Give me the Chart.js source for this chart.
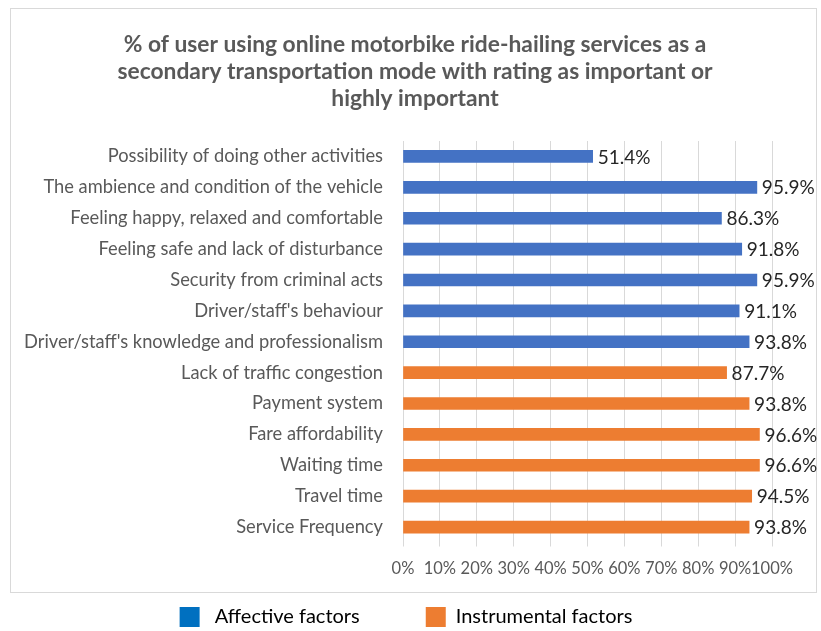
<!DOCTYPE html>
<html>
<head>
<meta charset="utf-8">
<script src="https://cdn.jsdelivr.net/npm/chart.js"></script>
<style>
  html, body { margin: 0; padding: 0; background: #fff; }
  #wrap { width: 821px; height: 631px; }
</style>
</head>
<body>
<div id="wrap"><canvas id="factorsChart" width="821" height="631"></canvas></div>
<script>
// Factors rated important / highly important (percent of users)
const factors = [
    "Possibility of doing other activities",
    "The ambience and condition of the vehicle",
    "Feeling happy, relaxed and comfortable",
    "Feeling safe and lack of disturbance",
    "Security from criminal acts",
    "Driver/staff's behaviour",
    "Driver/staff's knowledge and professionalism",
    "Lack of traffic congestion",
    "Payment system",
    "Fare affordability",
    "Waiting time",
    "Travel time",
    "Service Frequency"
];
const affective = [51.4, 95.9, 86.3, 91.8, 95.9, 91.1, 93.8, null, null, null, null, null, null];
const instrumental = [null, null, null, null, null, null, null, 87.7, 93.8, 96.6, 96.6, 94.5, 93.8];
const xTicks = [0, 10, 20, 30, 40, 50, 60, 70, 80, 90, 100];

const titleLines = [
    "% of user using online motorbike ride-hailing services as a",
    "secondary transportation mode with rating as important or",
    "highly important"
];

const FONT = "Lato";

// Light grey frame around title + plot (legend sits below it)
const framePlugin = {
    id: "frame",
    beforeDraw(chart) {
        const ctx = chart.ctx;
        ctx.save();
        ctx.fillStyle = "#fff";
        ctx.fillRect(0, 0, chart.width, chart.height);
        ctx.strokeStyle = "#d9d9d9";
        ctx.lineWidth = 1;
        ctx.strokeRect(10.5, 8.5, 806, 584);
        ctx.restore();
    }
};

// Centre title and legend a little right of the full width
const centreBoxes = {
    id: "centreBoxes",
    afterLayout(chart) {
        const place = (box, left, right) => {
            box.left = left;
            box.right = right;
            box.width = right - left;
        };
        place(chart.titleBlock, 58, 772);
        place(chart.legend, 40, 772);
    }
};

// Value labels at the end of each bar
const valueLabels = {
    id: "valueLabels",
    afterDatasetsDraw(chart) {
        const ctx = chart.ctx;
        ctx.save();
        ctx.font = "19px " + FONT;
        ctx.fillStyle = "#262626";
        ctx.textAlign = "left";
        ctx.textBaseline = "middle";
        chart.data.datasets.forEach((ds, i) => {
            chart.getDatasetMeta(i).data.forEach((bar, j) => {
                const v = ds.data[j];
                if (v == null) return;
                ctx.fillText(v.toFixed(1) + "%", bar.x + 5, bar.y + 1);
            });
        });
        ctx.restore();
    }
};

new Chart(document.getElementById("factorsChart").getContext("2d"), {
    type: "bar",
    data: {
        labels: factors,
        datasets: [
            { label: "Affective factors", data: affective, backgroundColor: "#4472c4", legendColor: "#0070c0" },
            { label: "Instrumental factors", data: instrumental, backgroundColor: "#ed7d31", legendColor: "#ed7d31" }
        ]
    },
    options: {
        indexAxis: "y",
        responsive: false,
        animation: false,
        barThickness: 12,
        layout: { padding: { left: 10, right: 49, top: 31, bottom: -6 } },
        scales: {
            x: {
                stacked: true,
                min: 0,
                max: 100,
                afterBuildTicks(axis) { axis.ticks = xTicks.map(v => ({ value: v })); },
                afterFit(axis) { axis.height = 38.5; },
                grid: { color: "#d9d9d9", drawTicks: true, tickLength: 4 },
                border: { display: false },
                ticks: {
                    color: "#595959",
                    font: { family: FONT, size: 16.5 },
                    padding: 12,
                    maxRotation: 0,
                    autoSkip: false,
                    callback: v => v + "%"
                }
            },
            y: {
                stacked: true,
                afterFit(axis) { axis.width = 393; },
                grid: { display: false, drawTicks: false },
                border: { display: false },
                ticks: {
                    color: "#595959",
                    font: { family: FONT, size: 18.3 },
                    padding: 20,
                    autoSkip: false
                }
            }
        },
        plugins: {
            title: {
                display: true,
                text: titleLines,
                color: "#595959",
                font: { family: FONT, size: 22.8, weight: "bold", lineHeight: 27 / 22.8 },
                padding: { top: 0, bottom: 29 }
            },
            legend: {
                position: "bottom",
                labels: {
                    color: "#262626",
                    font: { family: FONT, size: 20 },
                    boxWidth: 20,
                    boxHeight: 20,
                    padding: 26,
                    generateLabels(chart) {
                        return chart.data.datasets.map((ds, i) => ({
                            // wider gap after the first entry
                            text: i === 0 ? " " + ds.label + "\u2002\u2002\u2002\u2002" : ds.label,
                            fillStyle: ds.legendColor,
                            strokeStyle: ds.legendColor,
                            lineWidth: 0,
                            datasetIndex: i
                        }));
                    }
                }
            },
            tooltip: { enabled: false }
        }
    },
    plugins: [framePlugin, centreBoxes, valueLabels]
});
</script>
</body>
</html>
